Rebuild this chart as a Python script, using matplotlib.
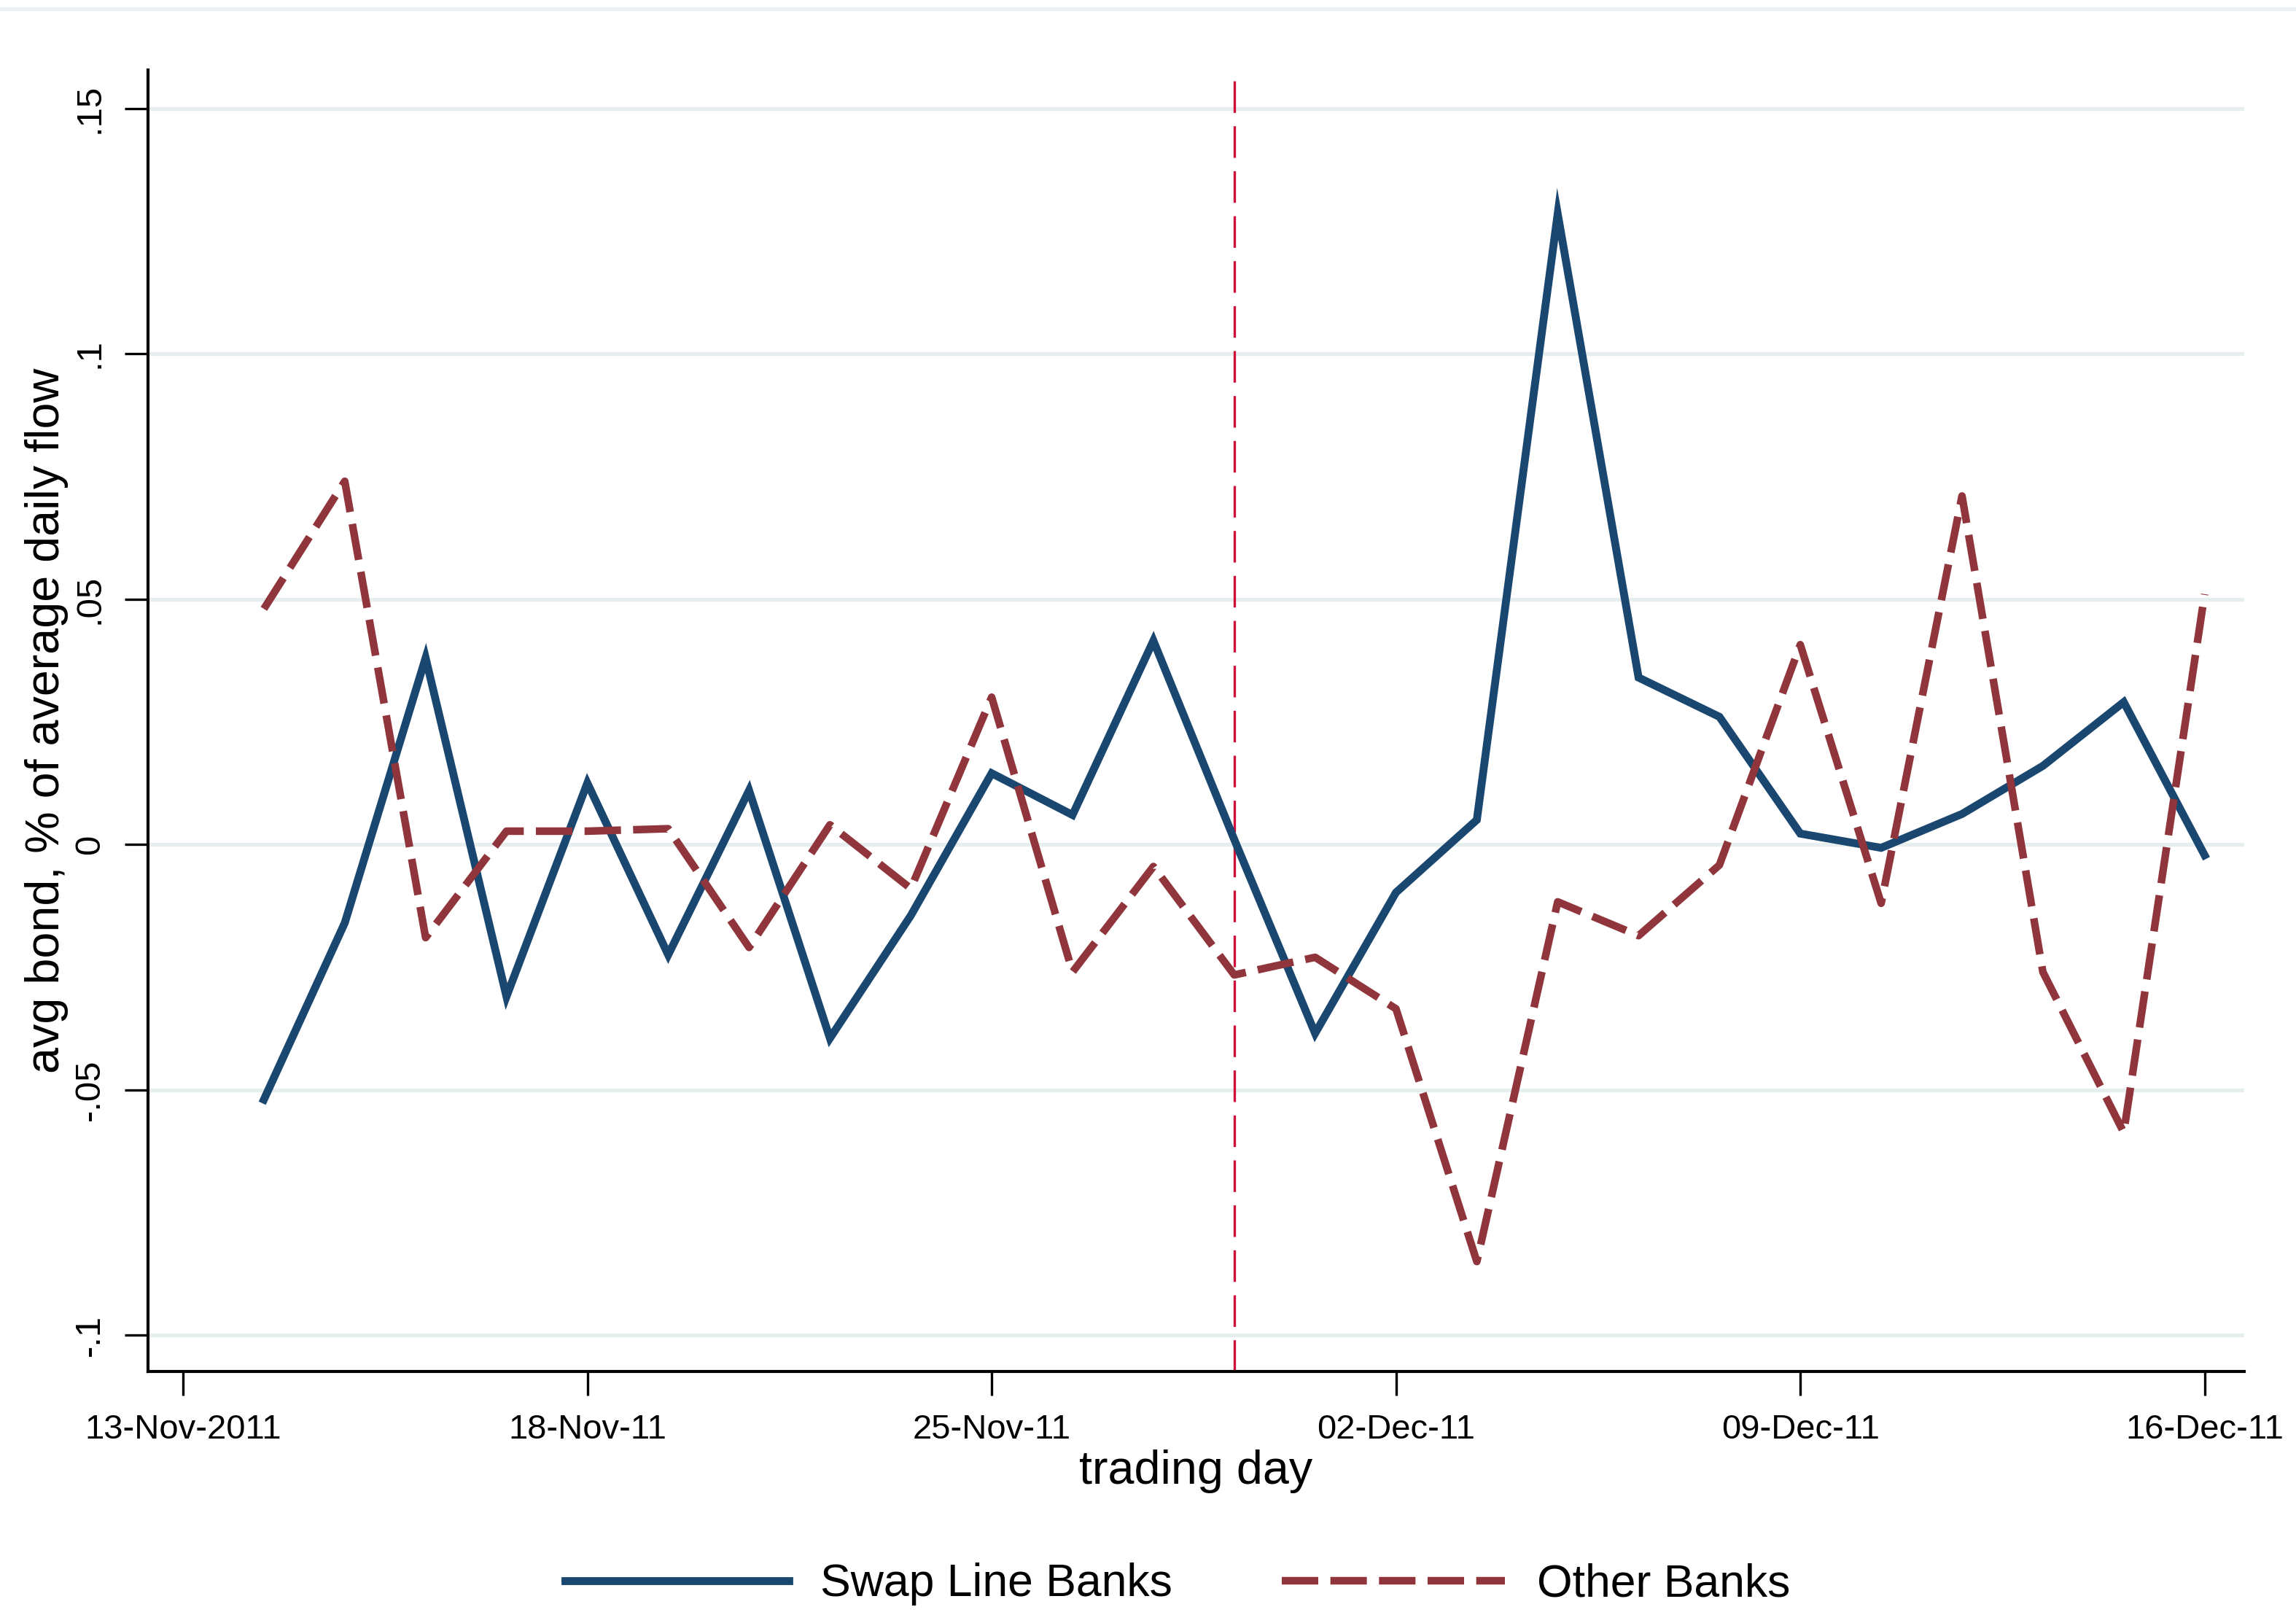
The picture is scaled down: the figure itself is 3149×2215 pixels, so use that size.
import matplotlib
matplotlib.use("Agg")
import matplotlib.pyplot as plt
from matplotlib.lines import Line2D

plt.rcParams["font.family"] = ["Liberation Sans", "DejaVu Sans"]

# Trading days (business days) shown on the horizontal axis
trading_days = [
    "2011-11-14", "2011-11-15", "2011-11-16", "2011-11-17", "2011-11-18",
    "2011-11-21", "2011-11-22", "2011-11-23", "2011-11-24", "2011-11-25",
    "2011-11-28", "2011-11-29", "2011-11-30", "2011-12-01", "2011-12-02",
    "2011-12-05", "2011-12-06", "2011-12-07", "2011-12-08", "2011-12-09",
    "2011-12-12", "2011-12-13", "2011-12-14", "2011-12-15", "2011-12-16",
]
axis_start = "2011-11-13"

# Average bond flow as a share of average daily flow
swap_line_banks = [
    -0.052, -0.016, 0.038, -0.031, 0.0125,
    -0.0225, 0.011, -0.0395, -0.0145, 0.0145,
    0.006, 0.0415, 0.001, -0.0385, -0.0098,
    0.0050, 0.1285, 0.034, 0.026, 0.0022,
    -0.0007, 0.0062, 0.0160, 0.029, -0.0022,
]
other_banks = [
    0.048, 0.074, -0.019, 0.0027, 0.0027,
    0.0032, -0.021, 0.004, -0.009, 0.030,
    -0.026, -0.0045, -0.0266, -0.023, -0.0335,
    -0.085, -0.0117, -0.0186, -0.0042, 0.0407,
    -0.0120, 0.0710, -0.026, -0.0587, 0.051,
]

tick_days = ["2011-11-13", "2011-11-18", "2011-11-25", "2011-12-02", "2011-12-09", "2011-12-16"]
tick_labels = ["13-Nov-2011", "18-Nov-11", "25-Nov-11", "02-Dec-11", "09-Dec-11", "16-Dec-11"]
event_day = "2011-11-30"

y_ticks = [-0.1, -0.05, 0.0, 0.05, 0.1, 0.15]
y_tick_labels = ["-.1", "-.05", "0", ".05", ".1", ".15"]

series_names = ["Swap Line Banks", "Other Banks"]

# Position of a day on the business-day axis
axis_days = [axis_start] + trading_days
def pos(day):
    return axis_days.index(day)

x = [pos(d) for d in trading_days]

NAVY = "#1A476F"
MAROON = "#90353B"
EVENT = "#D0103A"
GRID = "#E7EEF0"

W, H, DPI = 3149, 2215, 300
fig = plt.figure(figsize=(W / DPI, H / DPI), dpi=DPI)
fig.patch.set_facecolor("white")

left, right, top, bottom = 203, 3078, 96, 1881
ax = fig.add_axes([left / W, 1 - bottom / H, (right - left) / W, (bottom - top) / H])

ax.set_xlim(-0.433, 25.49)
ax.set_ylim(-0.1074, 0.1578)

ax.set_yticks(y_ticks)
ax.set_yticklabels(y_tick_labels)
ax.set_xticks([pos(d) for d in tick_days])
ax.set_xticklabels(tick_labels)

ax.yaxis.grid(True, color=GRID, lw=1.3)
ax.xaxis.grid(False)
ax.set_axisbelow(True)

for side in ("top", "right"):
    ax.spines[side].set_visible(False)
for side in ("left", "bottom"):
    ax.spines[side].set_color("black")
    ax.spines[side].set_linewidth(1.0)

ax.tick_params(axis="y", length=7.7, width=0.8, pad=6, labelsize=11.8, labelrotation=90)
for lab in ax.get_yticklabels():
    lab.set_va("center")
ax.tick_params(axis="x", length=8, width=0.8, pad=6, labelsize=11.3)

# Event marker
ax.axvline(pos(event_day), color=EVENT, lw=0.8, dashes=(13, 5.5), zorder=2)

line_swap, = ax.plot(x, swap_line_banks, color=NAVY, lw=2.6, solid_joinstyle="miter", zorder=3)
line_other, = ax.plot(x, other_banks, color=MAROON, lw=2.5, dashes=(4.8, 1.6), zorder=3)

ax.set_ylabel("avg bond, % of average daily flow", fontsize=15.5)
ax.yaxis.set_label_coords(-0.038, 0.5)
ax.set_xlabel("trading day", fontsize=15.5)
ax.xaxis.set_label_coords(0.5, -0.060)

fig.legend([line_swap, line_other], series_names, loc="center",
           bbox_to_anchor=(0.513, 0.019), ncol=2, frameon=False, fontsize=15,
           handlelength=4.9, handletextpad=0.7, columnspacing=2.4)

# thin rule along the top edge
fig.add_artist(Line2D([0, 1], [1 - 12 / H, 1 - 12 / H], transform=fig.transFigure,
                      color="#EBF0F2", lw=1.3))

fig.savefig("out.png", dpi=DPI)
